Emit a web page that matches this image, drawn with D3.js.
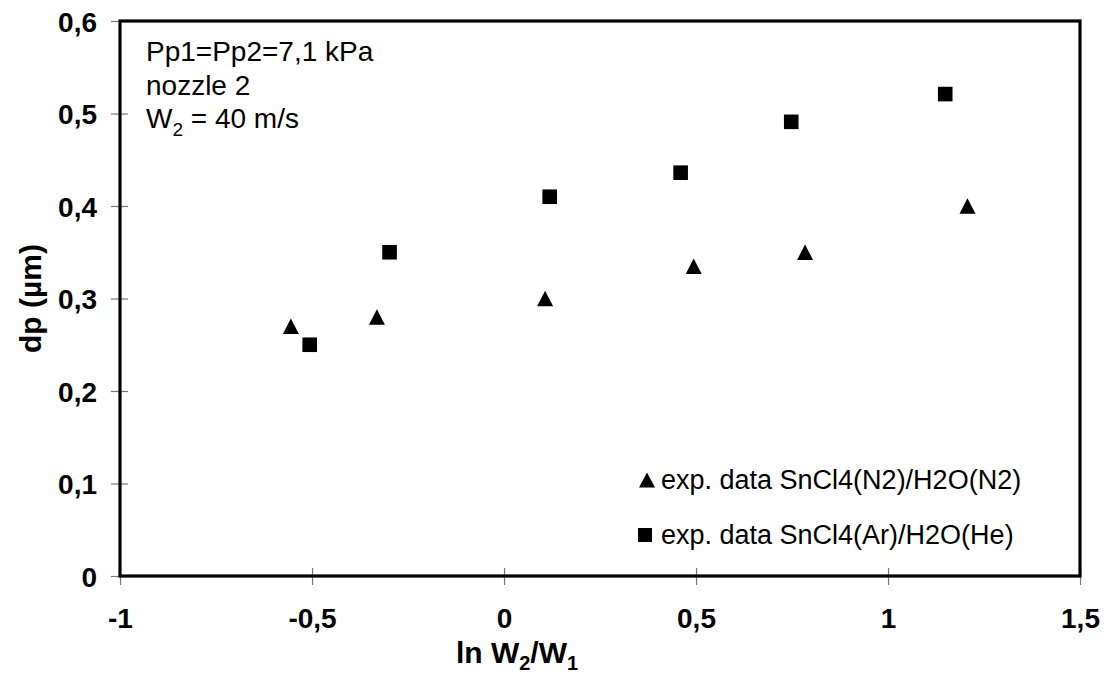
<!DOCTYPE html>
<html>
<head>
<meta charset="utf-8">
<script src="https://cdn.jsdelivr.net/npm/d3@7"></script>
<style>
  body { margin: 0; background: #fff; }
  svg { display: block; font-family: "Liberation Sans", Arial, sans-serif; }
</style>
</head>
<body>
<svg id="chart" width="1113" height="677"></svg>
<script>
// data
var xTicks = [-1, -0.5, 0, 0.5, 1, 1.5];
var yTicks = [0, 0.1, 0.2, 0.3, 0.4, 0.5, 0.6];

// SnCl4(N2)/H2O(N2) - triangles
var n2X = [-0.555, -0.331, 0.107, 0.494, 0.784, 1.207];
var n2Y = [0.27, 0.28, 0.30, 0.335, 0.35, 0.40];

// SnCl4(Ar)/H2O(He) - squares
var arX = [-0.506, -0.298, 0.119, 0.460, 0.748, 1.149];
var arY = [0.25, 0.35, 0.41, 0.436, 0.491, 0.521];

var seriesNames = ["exp. data SnCl4(N2)/H2O(N2)", "exp. data SnCl4(Ar)/H2O(He)"];
var noteLines = ["Pp1=Pp2=7,1 kPa", "nozzle 2"];

(function () {
    'use strict';

    var svg = d3.select("#chart"),
        pLeft = 120, pRight = 1080, pTop = 21, pBottom = 576;

    var x = d3.scaleLinear().domain([-1, 1.5]).range([pLeft, pRight]);
    var y = d3.scaleLinear().domain([0, 0.6]).range([pBottom, pTop]);

    var comma = function (d) { return String(d).replace(".", ","); };

    // x axis (ticks cross the axis line)
    var gx = svg.append("g")
        .attr("transform", "translate(0," + pBottom + ")")
        .call(d3.axisBottom(x).tickValues(xTicks).tickSize(9).tickPadding(23).tickFormat(comma));
    gx.select(".domain").remove();
    gx.selectAll(".tick line").attr("y1", -8).attr("stroke", "#777").attr("stroke-width", 1.2);
    gx.selectAll(".tick text")
        .attr("fill", "#000")
        .style("font-size", "28px")
        .style("font-weight", "bold")
        .style("font-family", "'Liberation Sans', Arial, sans-serif");

    // y axis
    var gy = svg.append("g")
        .attr("transform", "translate(" + pLeft + ",0)")
        .call(d3.axisLeft(y).tickValues(yTicks).tickSize(9).tickPadding(14).tickFormat(comma));
    gy.select(".domain").remove();
    gy.selectAll(".tick line").attr("x1", 8).attr("stroke", "#777").attr("stroke-width", 1.2);
    gy.selectAll(".tick text")
        .attr("fill", "#000")
        .attr("dy", "0.36em")
        .style("font-size", "28px")
        .style("font-weight", "bold")
        .style("font-family", "'Liberation Sans', Arial, sans-serif");

    // plot frame
    svg.append("rect")
        .attr("x", pLeft)
        .attr("y", pTop)
        .attr("width", pRight - pLeft)
        .attr("height", pBottom - pTop)
        .attr("fill", "none")
        .attr("stroke", "#000")
        .attr("stroke-width", 3.2);

    // markers
    var n2 = n2X.map(function (d, i) { return { x: d, y: n2Y[i] }; });
    var ar = arX.map(function (d, i) { return { x: d, y: arY[i] }; });

    function tri(cx, cy, w, h) {
        return "M" + cx + "," + (cy - h / 2) +
            "L" + (cx + w / 2) + "," + (cy + h / 2) +
            "L" + (cx - w / 2) + "," + (cy + h / 2) + "Z";
    }

    svg.append("g").selectAll("path")
        .data(n2)
        .enter()
        .append("path")
        .attr("d", function (d) { return tri(x(d.x), y(d.y), 16, 15.5); })
        .attr("fill", "#000");

    svg.append("g").selectAll("rect")
        .data(ar)
        .enter()
        .append("rect")
        .attr("x", function (d) { return x(d.x) - 7.3; })
        .attr("y", function (d) { return y(d.y) - 7.3; })
        .attr("width", 14.6)
        .attr("height", 14.6)
        .attr("fill", "#000");

    // note in the top left corner
    var note = svg.append("g").style("font-size", "28px");
    noteLines.forEach(function (t, i) {
        note.append("text").attr("x", 146).attr("y", 61 + i * 33.5).text(t);
    });
    var w2 = note.append("text").attr("x", 146).attr("y", 128);
    w2.append("tspan").text("W");
    w2.append("tspan").attr("dy", 8).style("font-size", "19px").text("2");
    w2.append("tspan").attr("dy", -8).text(" = 40 m/s");

    // legend
    var legend = svg.append("g").style("font-size", "27px");
    legend.append("path").attr("d", tri(647, 480, 16, 15)).attr("fill", "#000");
    legend.append("rect").attr("x", 638).attr("y", 528).attr("width", 14).attr("height", 14).attr("fill", "#000");
    legend.append("text").attr("x", 661).attr("y", 489).text(seriesNames[0]);
    legend.append("text").attr("x", 661).attr("y", 544).text(seriesNames[1]);

    // axis titles
    var xt = svg.append("text")
        .attr("x", 517)
        .attr("y", 663)
        .attr("text-anchor", "middle")
        .style("font-size", "30px")
        .style("font-weight", "bold");
    xt.append("tspan").text("ln W");
    xt.append("tspan").attr("dy", 7).style("font-size", "20px").text("2");
    xt.append("tspan").attr("dy", -7).text("/W");
    xt.append("tspan").attr("dy", 7).style("font-size", "20px").text("1");

    svg.append("text")
        .attr("transform", "translate(41," + (pTop + pBottom) / 2 + ") rotate(-90)")
        .attr("text-anchor", "middle")
        .style("font-size", "30px")
        .style("font-weight", "bold")
        .text("dp (µm)");
})();
</script>
</body>
</html>
